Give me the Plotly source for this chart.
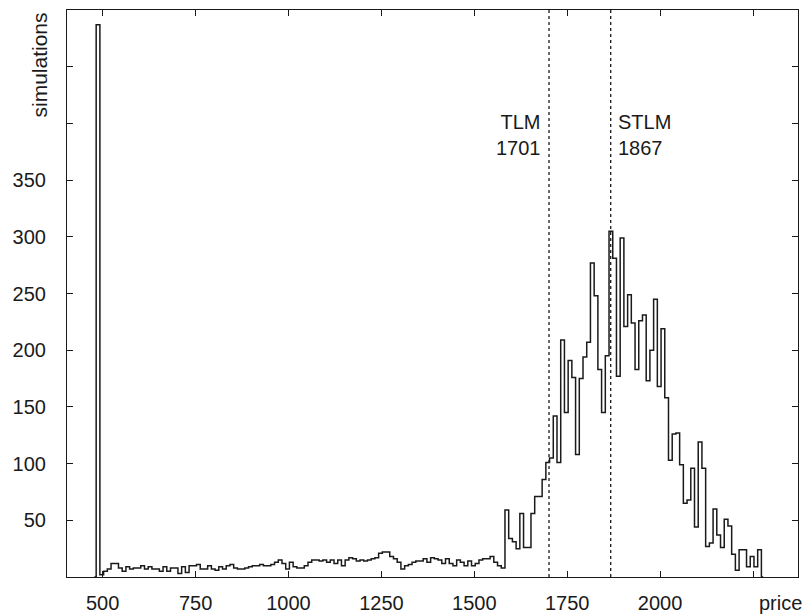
import numpy as np
import plotly.graph_objects as go

# Histogram of simulated prices: bin width 10, first bin centred at 487.5
bin_start = 487.5
bin_width = 10.0
counts = [
    487, 2, 5, 7, 12, 12, 8, 5, 9, 7,
    8, 8, 10, 7, 9, 7, 7, 5, 9, 5,
    8, 8, 3, 9, 4, 10, 10, 11, 7, 7,
    10, 7, 6, 9, 7, 10, 11, 8, 7, 7,
    8, 9, 10, 10, 11, 10, 10, 11, 13, 15,
    12, 7, 13, 9, 8, 8, 10, 13, 15, 15,
    14, 15, 13, 15, 12, 15, 10, 15, 17, 16,
    14, 15, 14, 15, 16, 17, 21, 22, 22, 18,
    16, 13, 7, 10, 11, 13, 14, 14, 16, 13,
    17, 16, 15, 12, 16, 12, 10, 15, 13, 10,
    14, 10, 12, 15, 16, 16, 18, 13, 10, 8,
    59, 34, 31, 25, 56, 26, 26, 56, 71, 71,
    86, 101, 105, 142, 101, 209, 145, 191, 176, 108,
    175, 194, 207, 277, 248, 183, 145, 195, 305, 281,
    177, 299, 221, 249, 224, 183, 226, 231, 173, 200,
    245, 168, 219, 158, 103, 126, 127, 99, 65, 68,
    96, 44, 119, 96, 27, 30, 60, 37, 26, 51,
    45, 20, 6, 24, 24, 9, 18, 9, 24,
]
centers = bin_start + bin_width * np.arange(len(counts))

# Reference prices marked on the chart
markers = [("TLM", 1701, "right"), ("STLM", 1867, "left")]

x_ticks = [500, 750, 1000, 1250, 1500, 1750, 2000, 2250]
x_tick_text = ["500", "750", "1000", "1250", "1500", "1750", "2000", ""]
y_ticks = [50, 100, 150, 200, 250, 300, 350, 400, 450]
y_tick_text = ["50", "100", "150", "200", "250", "300", "350", "", ""]

FONT = "Liberation Sans, Arial, sans-serif"
INK = "#1a1a1a"

W, H = 809, 615
M_L, M_R, M_T, M_B = 67, 11, 10, 38
plot_w = W - M_L - M_R
plot_h = H - M_T - M_B

# Pad with empty bins so the outline drops to zero at both ends
xs = np.concatenate([[centers[0] - bin_width], centers, [centers[-1] + bin_width]])
ys = np.concatenate([[0], counts, [0]])

fig = go.Figure()
fig.add_trace(go.Scatter(
    x=xs, y=ys, mode="lines",
    line=dict(shape="hvh", color=INK, width=1.5),
    hoverinfo="skip", showlegend=False,
))

for name, price, side in markers:
    fig.add_shape(type="line", x0=price, x1=price, xref="x",
                  y0=0, y1=1, yref="paper",
                  line=dict(color=INK, width=1.3, dash="dot"))
    fig.add_annotation(
        x=price, y=390, xref="x", yref="y",
        text=f"{name}<br>{price}", showarrow=False,
        xanchor="right" if side == "right" else "left",
        yanchor="middle",
        xshift=-6 if side == "right" else 5,
        align=side, font=dict(family=FONT, size=20, color=INK),
    )

# Rotated y-axis title, positioned in pixels relative to the plot area
fig.add_annotation(x=(38.5 - M_L) / plot_w, y=1 - (65 - M_T) / plot_h,
                   xref="paper", yref="paper", text="simulations",
                   showarrow=False, textangle=-90,
                   xanchor="center", yanchor="middle",
                   font=dict(family=FONT, size=21, color=INK))
fig.add_annotation(x=(780 - M_L) / plot_w, y=-(603 - (H - M_B)) / plot_h,
                   xref="paper", yref="paper", text="price",
                   showarrow=False, xanchor="center", yanchor="middle",
                   font=dict(family=FONT, size=20, color=INK))

axis_common = dict(
    showline=True, mirror="allticks", linecolor=INK, linewidth=1.2,
    ticks="inside", ticklen=6, tickwidth=1.2, tickcolor=INK,
    showgrid=False, zeroline=False, automargin=False,
    tickfont=dict(family=FONT, size=20, color=INK),
)

fig.update_xaxes(range=[404, 2371], tickvals=x_ticks, ticktext=x_tick_text,
                 ticklabelstandoff=8, **axis_common)
fig.update_yaxes(range=[0, 500], tickvals=y_ticks, ticktext=y_tick_text,
                 ticklabelstandoff=16, **axis_common)

fig.update_layout(
    width=W, height=H,
    margin=dict(l=M_L, r=M_R, t=M_T, b=M_B, autoexpand=False),
    paper_bgcolor="white", plot_bgcolor="white",
)

fig.write_html("out.html")
